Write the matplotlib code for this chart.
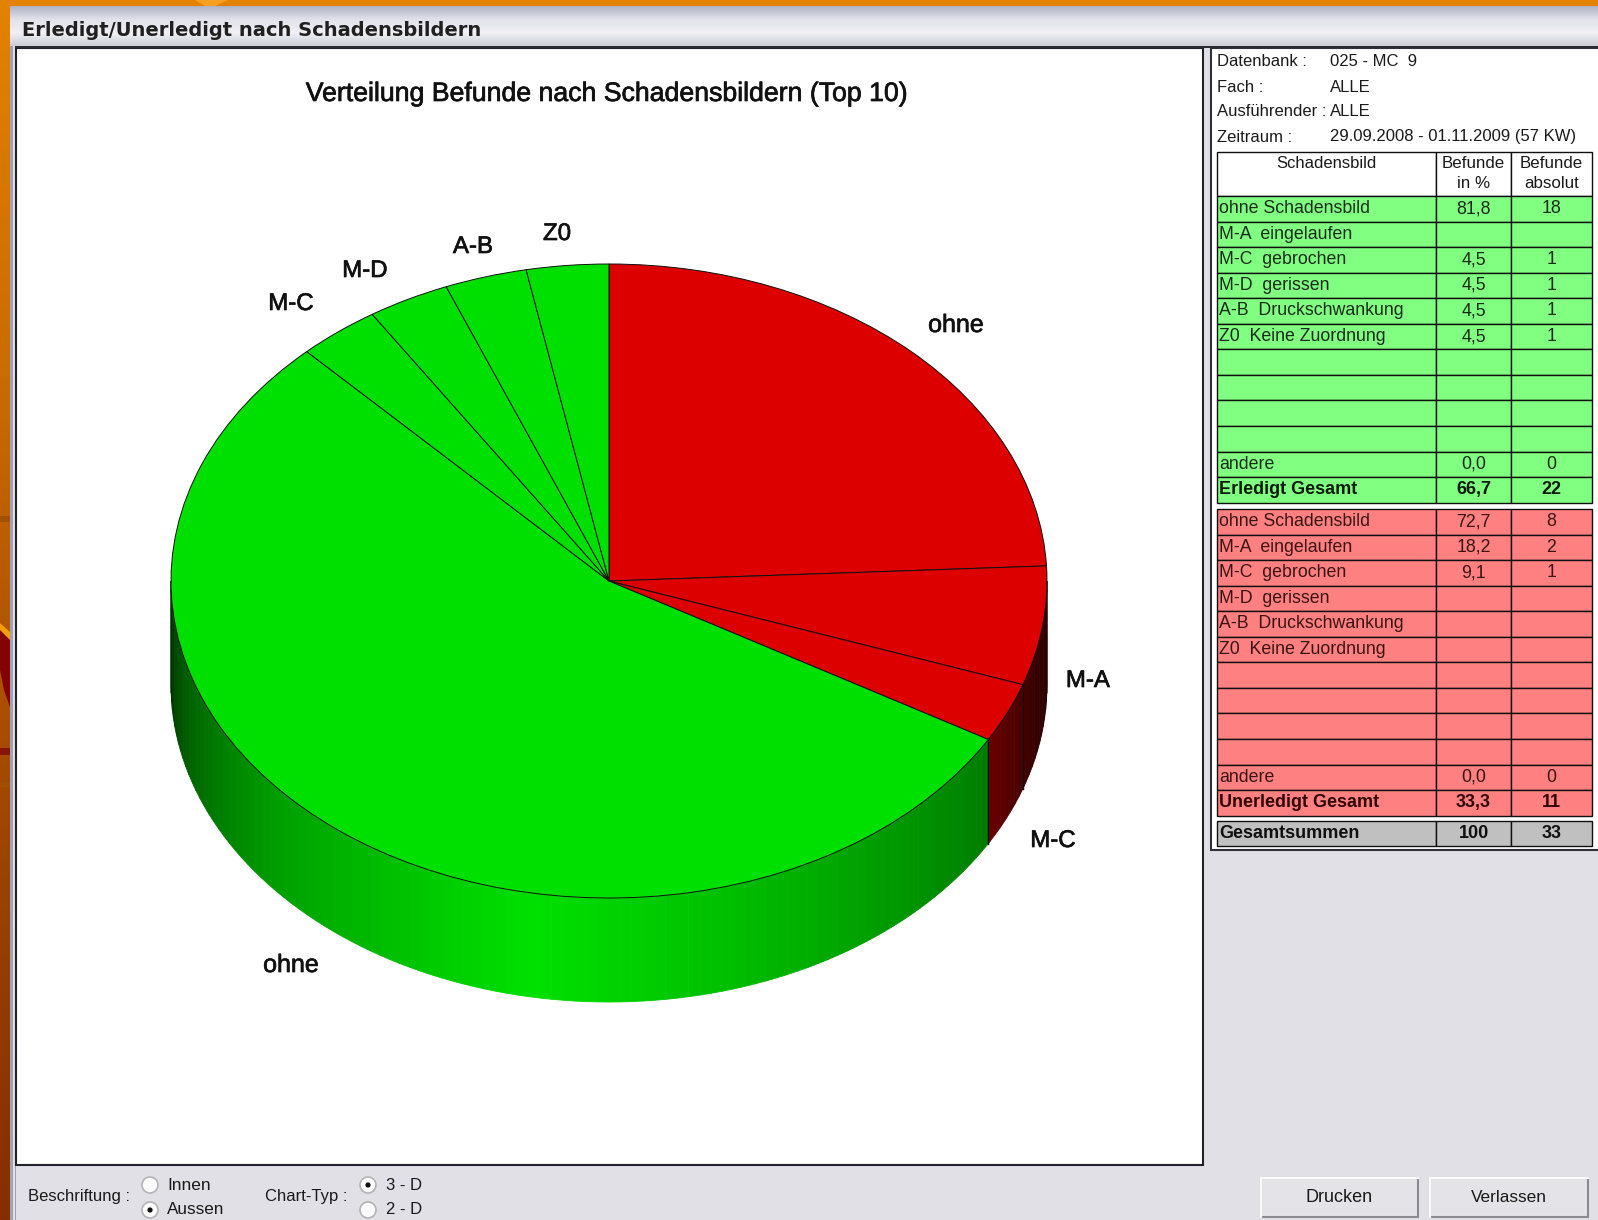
import numpy as np
import matplotlib
matplotlib.use("Agg")
import matplotlib.pyplot as plt
import matplotlib.patheffects as pe
from matplotlib.patches import Rectangle, Polygon, Circle

# ---------- data ----------
CHART_TITLE = "Verteilung Befunde nach Schadensbildern (Top 10)"
WINDOW_TITLE = "Erledigt/Unerledigt nach Schadensbildern"
pie_labels = ["ohne", "M-A", "M-C", "ohne", "M-C", "M-D", "A-B", "Z0"]
pie_counts = [8, 2, 1, 18, 1, 1, 1, 1]
pie_state = ["red", "red", "red", "green", "green", "green", "green", "green"]

info_keys = ["Datenbank :", "Fach :", "Ausführender :", "Zeitraum :"]
info_vals = ["025 - MC  9", "ALLE", "ALLE", "29.09.2008 - 01.11.2009 (57 KW)"]

row_names = ["ohne Schadensbild", "M-A  eingelaufen", "M-C  gebrochen", "M-D  gerissen",
             "A-B  Druckschwankung", "Z0  Keine Zuordnung", "", "", "", "", "andere"]
green_pct = ["81,8", "", "4,5", "4,5", "4,5", "4,5", "", "", "", "", "0,0"]
green_abs = ["18", "", "1", "1", "1", "1", "", "", "", "", "0"]
red_pct = ["72,7", "18,2", "9,1", "", "", "", "", "", "", "", "0,0"]
red_abs = ["8", "2", "1", "", "", "", "", "", "", "", "0"]
green_total = ["Erledigt Gesamt", "66,7", "22"]
red_total = ["Unerledigt Gesamt", "33,3", "11"]
grand_total = ["Gesamtsummen", "100", "33"]

# ---------- layout ----------
W, H = 1598, 1220
CX, CY, RX, RY, DEPTH = 609, 581, 438, 317, 104
SANS = "Liberation Sans"

fig = plt.figure(figsize=(W / 100, H / 100), dpi=100)
ui = fig.add_axes([0, 0, 1, 1], zorder=0)
ui.axis("off")


def vgrad(ax, x0, x1, y0, y1, stops, z=1):
    n = 256
    t = np.linspace(0, 1, n)
    xs = np.linspace(0, 1, len(stops))
    arr = np.array(stops, float) / 255
    img = np.stack([np.interp(t, xs, arr[:, i]) for i in range(3)], axis=1)[:, None, :]
    ax.imshow(img, extent=(x0, x1, y1, y0), aspect="auto", zorder=z, interpolation="bilinear")


def rect(x0, y0, x1, y1, fc, ec="none", lw=0, z=2):
    ui.add_patch(Rectangle((x0, y0), x1 - x0, y1 - y0, facecolor=fc, edgecolor=ec, linewidth=lw, zorder=z))


def txt(x, y, s, size=13, ha="left", weight="normal", color="#1a1a1a", family=SANS, z=5, heavy=0.0):
    t = ui.text(x, y, s, fontsize=size, ha=ha, va="center", fontweight=weight, color=color,
                family=family, zorder=z)
    if heavy:
        t.set_path_effects([pe.withStroke(linewidth=heavy, foreground=color)])
    return t


# background
vgrad(ui, 0, W, 0, H, [(228, 130, 0), (200, 105, 0), (160, 70, 0), (135, 45, 0)], z=1)
ui.add_patch(Polygon([(195, 0), (228, 0), (215, 6), (205, 6)], facecolor="#f5a020", zorder=2))
ui.add_patch(Polygon([(0, 623), (10, 635), (10, 707), (4, 690), (0, 670)], facecolor="#850000", zorder=2))
ui.add_patch(Polygon([(0, 623), (10, 632), (10, 640), (0, 630)], facecolor="#f0a000", zorder=2))
rect(0, 748, 10, 755, "#8a1500")
rect(0, 782, 10, 787, "#a05000")
rect(0, 516, 10, 522, "#a05000")

# window
rect(10, 6, W, H, "#e0e0e6", z=2)
vgrad(ui, 10, W, 6, 46, [(175, 178, 195), (225, 226, 235), (240, 240, 245), (205, 205, 215)], z=3)
rect(10, 46, 16, H, "#9fa3b8", z=3)
rect(13, 46, 15, H, "#e0e0e6", z=3)
rect(15, 46, W, 48, "#2a2a33", z=4)
txt(22, 30, WINDOW_TITLE, size=14, weight="bold", color="#202020", family="DejaVu Sans")

# chart panel
rect(16, 48, 1203, 1165, "white", ec="#20202a", lw=1.5, z=3)
txt(606, 94, CHART_TITLE, size=19.2, ha="center", color="#111111", heavy=0.5)

# right panel
rect(1211, 48, W + 5, 850, "white", ec="#303038", lw=1.5, z=3)
INFO_Y = [62, 87, 112, 137]
for k, v, y in zip(info_keys, info_vals, INFO_Y):
    txt(1217, y, k, size=12)
    txt(1330, y, v, size=12)

# table
TL, C1, C2, TR = 1217, 1436, 1511, 1592
GREEN, RED, GREY = "#80ff80", "#ff8080", "#c0c0c0"
STEP = 25.55


def table_row(y, h, cells, fc, bold=False, tcolor="#1a1a1a"):
    rect(TL, y, C1, y + h, fc, ec="#101010", lw=1.0, z=4)
    rect(C1, y, C2, y + h, fc, ec="#101010", lw=1.0, z=4)
    rect(C2, y, TR, y + h, fc, ec="#101010", lw=1.0, z=4)
    w = "bold" if bold else "normal"
    s = 13 if bold else 12.8
    txt(TL + 2, y + h / 2, cells[0], size=s, weight=w, color=tcolor)
    txt((C1 + C2) / 2, y + h / 2, cells[1], size=s, ha="center", weight=w, color=tcolor)
    txt((C2 + TR) / 2, y + h / 2, cells[2], size=s, ha="center", weight=w, color=tcolor)


table_row(152, 44, ["", "", ""], "white")
txt((TL + C1) / 2, 163, "Schadensbild", size=12, ha="center")
txt((C1 + C2) / 2, 163, "Befunde", size=12.2, ha="center")
txt((C1 + C2) / 2, 184, "in %", size=12.2, ha="center")
txt((C2 + TR) / 2, 163, "Befunde", size=12.2, ha="center")
txt((C2 + TR) / 2, 184, "absolut", size=12.2, ha="center")

for i, (n, p, a) in enumerate(zip(row_names, green_pct, green_abs)):
    table_row(196 + i * STEP, STEP, [n, p, a], GREEN, tcolor="#1a2a1a")
table_row(196 + 11 * STEP, STEP, green_total, GREEN, bold=True, tcolor="#0a1a0a")
for i, (n, p, a) in enumerate(zip(row_names, red_pct, red_abs)):
    table_row(509 + i * STEP, STEP, [n, p, a], RED, tcolor="#3a1414")
table_row(509 + 11 * STEP, STEP, red_total, RED, bold=True, tcolor="#300505")
table_row(821, 25, grand_total, GREY, bold=True, tcolor="#101010")


# bottom controls
def radio(x, y, on):
    ui.add_patch(Circle((x, y), 8, facecolor="#fbfbfb", edgecolor="#b4b4b8", linewidth=1.2, zorder=4))
    if on:
        ui.add_patch(Circle((x, y), 2.6, facecolor="#101010", zorder=5))


txt(28, 1196, "Beschriftung :", size=12)
radio(150, 1185, False)
radio(150, 1210, True)
txt(167, 1185, "Innen", size=12.4)
txt(167, 1210, "Aussen", size=12.3)
txt(265, 1196, "Chart-Typ :", size=12)
radio(368, 1185, True)
radio(368, 1210, False)
txt(386, 1185, "3 - D", size=12)
txt(386, 1210, "2 - D", size=12)


def button(x0, x1, label, size):
    rect(x0, 1178, x1, 1217, "#e4e4e8", ec="#8a8a90", lw=1.5, z=3)
    ui.plot([x0, x1], [1178, 1178], color="#fafafa", lw=1.5, zorder=4)
    ui.plot([x0, x0], [1178, 1217], color="#fafafa", lw=1.5, zorder=4)
    txt((x0 + x1) / 2, 1197, label, size=size, ha="center")


button(1261, 1418, "Drucken", 13)
button(1430, 1588, "Verlassen", 12.4)

ui.set_xlim(0, W)
ui.set_ylim(H, 0)

# ---------- pie ----------
ax = fig.add_axes([0, 0, 1, 1], zorder=2)
ax.patch.set_alpha(0)
TOP = {"red": "#dc0000", "green": "#00e000"}
ax.pie(pie_counts, startangle=90, counterclock=False, radius=1,
       colors=[TOP[s] for s in pie_state],
       wedgeprops=dict(edgecolor="#101010", linewidth=0.7, zorder=3))
ax.set_aspect("auto")
ax.set_xlim(-CX / RX, (W - CX) / RX)
ax.set_ylim(-(H - CY) / RY, CY / RY)
ax.axis("off")

depth = DEPTH / RY
xk = [90, 105, 120, 160, 190, 230, 255, 270]
yk = [0.20, 0.30, 0.55, 0.82, 1.00, 0.70, 0.42, 0.20]


def shade(state, clock_deg):
    b = np.interp(clock_deg, xk, yk)
    if state == "green":
        return (0, 0.88 * b, 0)
    return (0.75 * b, 0, 0)


edges = np.cumsum([0] + pie_counts) / sum(pie_counts) * 360
for st, a0, a1 in zip(pie_state, edges[:-1], edges[1:]):
    lo, hi = max(a0, 90), min(a1, 270)
    if hi <= lo:
        continue
    grid = np.arange(lo, hi + 1.5, 1.5)
    grid[-1] = hi
    grid = grid[grid <= hi]
    for g0, g1 in zip(grid[:-1], grid[1:]):
        x0, x1 = np.sin(np.radians([g0, g1]))
        y0, y1 = np.cos(np.radians([g0, g1]))
        c = shade(st, (g0 + g1) / 2)
        ax.add_patch(Polygon([(x0, y0), (x1, y1), (x1, y1 - depth), (x0, y0 - depth)],
                             facecolor=c, edgecolor=c, linewidth=0.6, zorder=1))
    for a in (lo, hi):
        if 90 < a < 270:
            ax.plot([np.sin(np.radians(a))] * 2,
                    [np.cos(np.radians(a)), np.cos(np.radians(a)) - depth],
                    color="#101010", lw=0.9, zorder=2)

LABEL_PX = [(956, 325), (1088, 681), (1053, 841), (291, 965), (291, 304), (365, 271), (473, 247), (557, 234)]
for lab, (px, py) in zip(pie_labels, LABEL_PX):
    txt(px, py, lab, size=18 if lab == "ohne" else 17.3, ha="center", color="#111111", heavy=0.5)

fig.savefig("out.png", dpi=100)
